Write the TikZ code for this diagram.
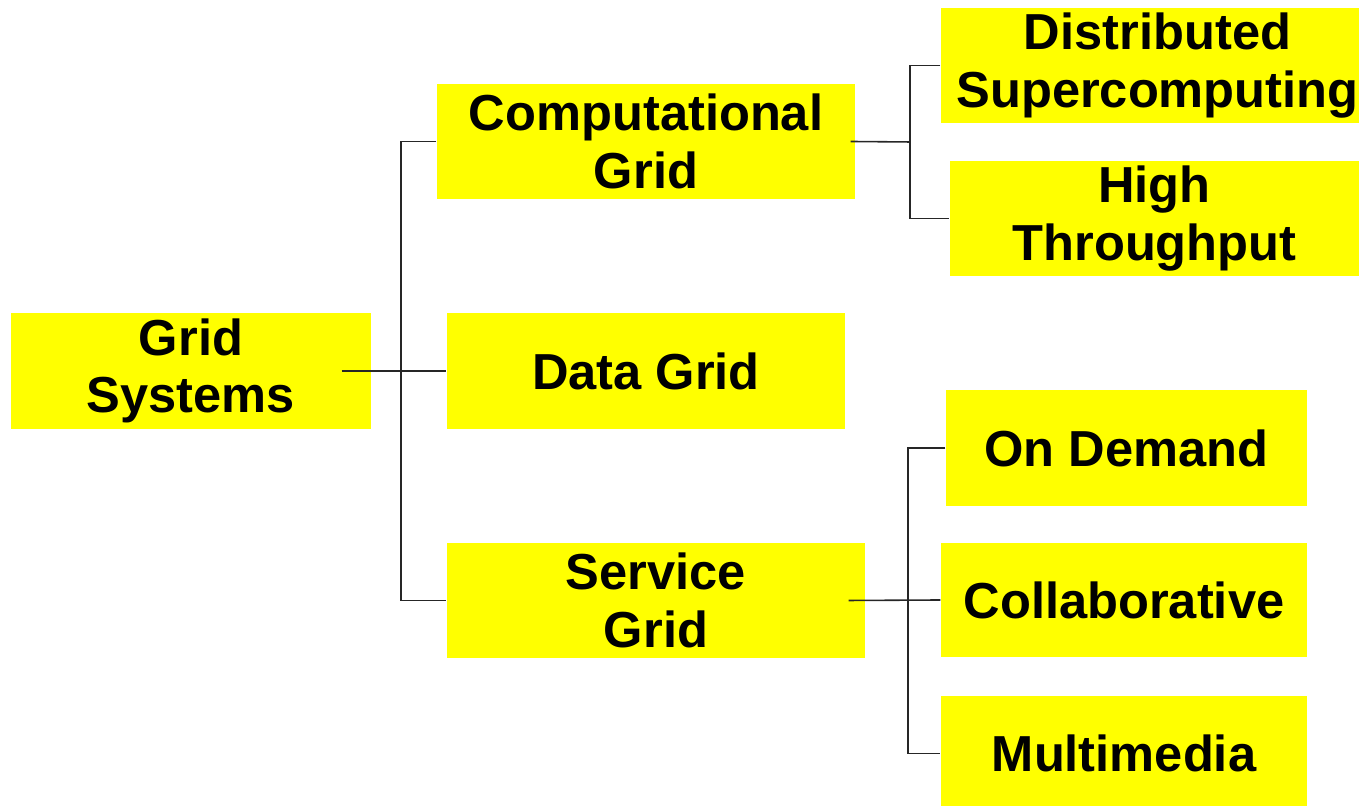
\documentclass[tikz,border=0pt]{standalone}
\usepackage{fontspec}
\setmainfont{Liberation Sans}
\usepackage{tikz}
\usetikzlibrary{positioning, calc}
\definecolor{boxyellow}{HTML}{FFFF00}

\begin{document}
\begin{tikzpicture}[
    gridbox/.style={rectangle, fill=boxyellow, inner sep=0pt, align=center,
                    font=\fontsize{14.4}{16.4}\selectfont\bfseries},
    link/.style={black!85, line width=0.45pt}
  ]
  \useasboundingbox (0,0) rectangle (13.59,8.06);

  % ===== Root =====
  \node[gridbox, minimum width=3.60cm, minimum height=1.16cm] (root) at (1.91, 4.35) {Grid\\Systems};

  % ===== Middle level =====
  \node[gridbox, minimum width=4.18cm, minimum height=1.15cm] (comp) at (6.46, 6.645) {Computational\\Grid};
  \node[gridbox, minimum width=3.98cm, minimum height=1.16cm] (data) at (6.46, 4.35) {Data Grid};
  \node[gridbox, minimum width=4.18cm, minimum height=1.15cm] (serv) at (6.56, 2.055) {Service\\Grid};

  % ===== Leaves: computational =====
  \node[gridbox, minimum width=4.18cm, minimum height=1.15cm] (dist) at (11.50, 7.405) {\hspace*{1.5mm}Distributed\\\hspace*{1.5mm}Supercomputing};
  \node[gridbox, minimum width=4.09cm, minimum height=1.15cm] (high) at (11.545, 5.875) {High\\Throughput};

  % ===== Leaves: service =====
  \node[gridbox, minimum width=3.61cm, minimum height=1.16cm] (ondem) at (11.265, 3.58) {On Demand};
  \node[gridbox, minimum width=3.66cm, minimum height=1.14cm] (collab) at (11.24, 2.06) {Collaborative};
  \node[gridbox, minimum width=3.66cm, minimum height=1.15cm] (multi) at (11.24, 0.525) {Multimedia};

  % ===== Bus points =====
  \coordinate (busA) at (4.01, 4.35);
  \coordinate (busB) at (9.10, 6.64);
  \coordinate (busC) at (9.08, 2.06);

  % ===== Connectors =====
  \draw[link] ([xshift=-3mm]root.east) -- (busA);
  \draw[link] (comp.west) -| (busA |- serv.west) -- (serv.west);
  \draw[link] (busA) -- (data.west);

  \draw[link] ([xshift=-0.5mm]comp.east) -- (busB);
  \draw[link] (dist.west) -| (busB |- high.west) -- (high.west);

  \draw[link] ([xshift=-1.7mm]serv.east) -- (collab.west);
  \draw[link] (ondem.west) -| (busC |- multi.west) -- (multi.west);
\end{tikzpicture}
\end{document}
